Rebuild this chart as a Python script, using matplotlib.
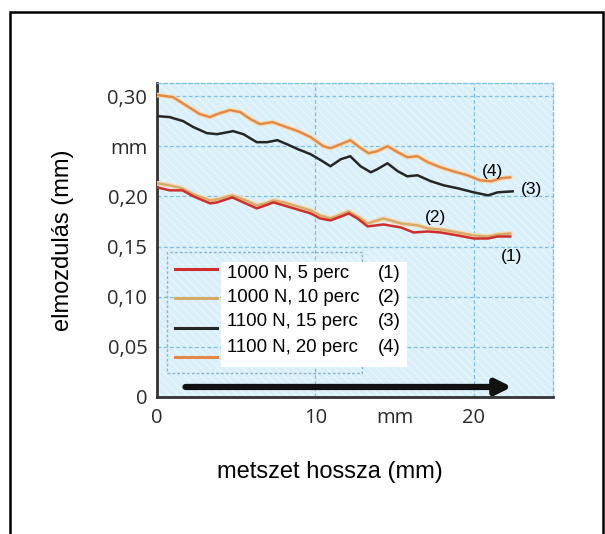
import matplotlib
matplotlib.use("Agg")
import matplotlib.pyplot as plt
from matplotlib.patches import Rectangle
from matplotlib.lines import Line2D
import matplotlib.patheffects as pe

# ---------------- data ----------------
x4 = [0.0, 1.0, 1.9, 2.7, 3.35, 3.8, 4.6, 5.25, 5.9, 6.5, 7.3, 8.0, 8.9, 9.7, 10.5, 10.95,
      11.6, 12.2, 12.7, 13.35, 13.9, 14.55, 15.2, 15.8, 16.45, 17.1, 17.9, 18.7, 19.6, 20.4,
      21.1, 21.7, 22.3]
y4 = [0.301, 0.299, 0.290, 0.282, 0.279, 0.282, 0.286, 0.284, 0.277, 0.272, 0.274, 0.270,
      0.265, 0.259, 0.250, 0.248, 0.252, 0.256, 0.250, 0.243, 0.245, 0.250, 0.244, 0.239,
      0.240, 0.234, 0.229, 0.225, 0.221, 0.216, 0.215, 0.218, 0.219]

x3 = [0.0, 0.8, 1.65, 2.3, 3.15, 3.8, 4.8, 5.45, 6.3, 6.95, 7.6, 8.2, 8.9, 9.7, 10.45, 10.95,
      11.6, 12.2, 12.85, 13.5, 13.9, 14.55, 15.2, 15.8, 16.45, 17.3, 18.1, 19.0, 20.0, 20.9,
      21.5, 22.45]
y3 = [0.280, 0.279, 0.275, 0.269, 0.263, 0.262, 0.265, 0.262, 0.254, 0.254, 0.256, 0.252,
      0.247, 0.242, 0.235, 0.230, 0.237, 0.240, 0.230, 0.224, 0.227, 0.233, 0.225, 0.220,
      0.221, 0.215, 0.211, 0.208, 0.204, 0.201, 0.204, 0.205]

x1 = [0.0, 0.8, 1.6, 2.3, 3.35, 3.8, 4.75, 5.45, 6.3, 6.85, 7.35, 8.0, 8.85, 9.7, 10.3, 10.95,
      11.8, 12.1, 12.65, 13.3, 14.3, 15.4, 16.2, 17.1, 17.9, 19.0, 20.0, 20.9, 21.5, 22.3]
y1 = [0.209, 0.206, 0.206, 0.200, 0.193, 0.194, 0.199, 0.194, 0.188, 0.191, 0.194, 0.191,
      0.187, 0.183, 0.178, 0.176, 0.181, 0.183, 0.178, 0.170, 0.172, 0.169, 0.164, 0.165,
      0.164, 0.161, 0.158, 0.158, 0.160, 0.160]

x2 = [0.0, 0.8, 1.6, 2.3, 3.35, 3.8, 4.75, 5.45, 6.3, 6.85, 7.35, 8.0, 8.85, 9.7, 10.3, 10.95,
      11.8, 12.1, 12.65, 13.3, 14.3, 15.4, 16.5, 17.1, 17.9, 19.0, 20.0, 20.9, 21.5, 22.3]
y2 = [0.213, 0.211, 0.208, 0.202, 0.196, 0.197, 0.201, 0.197, 0.191, 0.193, 0.196, 0.194,
      0.190, 0.186, 0.181, 0.178, 0.183, 0.185, 0.180, 0.173, 0.178, 0.173, 0.171, 0.168,
      0.167, 0.164, 0.161, 0.160, 0.162, 0.163]

series_labels = ["1000 N, 5 perc", "1000 N, 10 perc", "1100 N, 15 perc", "1100 N, 20 perc"]
series_numbers = ["(1)", "(2)", "(3)", "(4)"]

yticks = [0, 0.05, 0.10, 0.15, 0.20, 0.25, 0.30]
ytick_labels = ["0", "0,05", "0,10", "0,15", "0,20", "mm", "0,30"]
xticks = [0, 10, 15, 20]
xtick_labels = ["0", "10", "mm", "20"]

# ---------------- figure ----------------
W, H = 605, 534
fig = plt.figure(figsize=(W / 100, H / 100), dpi=100)
fig.patch.set_facecolor("white")

ax_l, ax_r, ax_t, ax_b = 157, 553, 83, 397
ax = fig.add_axes([ax_l / W, 1 - ax_b / H, (ax_r - ax_l) / W, (ax_b - ax_t) / H])
ax.set_xlim(0, 25)
ax.set_ylim(0, 0.313)

ax.set_facecolor("#d9eff9")
bg = Rectangle((0, 0), 1, 1, transform=ax.transAxes, facecolor="none",
               edgecolor="#e9f6fc", hatch="\\\\\\\\", lw=0, zorder=0)
ax.add_patch(bg)

grid_col = "#7cbfe0"
for yv in yticks[1:]:
    ax.axhline(yv, color=grid_col, lw=0.9, ls=(0, (3, 2)), zorder=1)
for xv in [10, 20]:
    ax.axvline(xv, color=grid_col, lw=0.9, ls=(0, (3, 2)), zorder=1)

for s in ["top", "right"]:
    ax.spines[s].set_color(grid_col)
    ax.spines[s].set_linestyle((0, (3, 2)))
    ax.spines[s].set_linewidth(0.9)
for s in ["left", "bottom"]:
    ax.spines[s].set_color("#333333")
    ax.spines[s].set_linewidth(2.0)

ax.set_yticks(yticks)
ax.set_yticklabels(ytick_labels)
ax.set_xticks(xticks)
ax.set_xticklabels(xtick_labels)
ax.tick_params(axis="both", length=0, labelsize=14.5, colors="#2a2a2a")
ax.tick_params(axis="y", pad=7)
ax.tick_params(axis="x", pad=8)
for lab in ax.get_xticklabels() + ax.get_yticklabels():
    lab.set_fontfamily("Open Sans")
    lab.set_color("#2a2a2a")

c1, c2, c3, c4 = "#cf2f2c", "#d6aa6a", "#262626", "#e48845"
halo = [pe.Stroke(linewidth=3.4, foreground="#f4dcb6"), pe.Normal()]
ax.plot(x2, y2, color=c2, lw=1.7, zorder=3, path_effects=halo)
ax.plot(x1, y1, color=c1, lw=1.8, zorder=4)
ax.plot(x4, y4, color=c4, lw=1.7, zorder=3, path_effects=halo)
ax.plot(x3, y3, color=c3, lw=1.8, zorder=4)

# curve number annotations
fs_ann = 12.5
ax.text(21.2, 0.225, "(4)", fontsize=fs_ann, family="Liberation Sans", ha="center", va="center", zorder=6)
ax.text(23.65, 0.207, "(3)", fontsize=fs_ann, family="Liberation Sans", ha="center", va="center", zorder=6)
ax.text(17.6, 0.179, "(2)", fontsize=fs_ann, family="Liberation Sans", ha="center", va="center", zorder=6)
ax.text(22.4, 0.140, "(1)", fontsize=fs_ann, family="Liberation Sans", ha="center", va="center", zorder=6)

# arrow along the section
ax.annotate("", xy=(22.4, 0.010), xytext=(1.8, 0.010),
            arrowprops=dict(arrowstyle="-|>,head_length=0.9,head_width=0.45",
                            color="#111111", lw=4.5, shrinkA=0, shrinkB=0), zorder=6)

# legend (manual, in pixel-derived axes coordinates)
def px2ax(px, py):
    return (px - ax_l) / (ax_r - ax_l), (ax_b - py) / (ax_b - ax_t)

bx0, by0 = px2ax(167, 373)
bx1, by1 = px2ax(362, 252)
ax.add_patch(Rectangle((bx0, by0), bx1 - bx0, by1 - by0, transform=ax.transAxes,
                       facecolor="none", edgecolor="#8fb3cc", lw=1.0, ls=(0, (2, 1.5)), zorder=5))
wx0, wy0 = px2ax(221, 367)
wx1, wy1 = px2ax(407, 262)
ax.add_patch(Rectangle((wx0, wy0), wx1 - wx0, wy1 - wy0, transform=ax.transAxes,
                       facecolor="white", edgecolor="none", zorder=5))

line_rows = [269, 298, 328, 357]
text_rows = [273, 298, 322, 347]
cols = [c1, c2, c3, c4]
for i in range(4):
    lx0, ly = px2ax(175, line_rows[i])
    lx1, _ = px2ax(217, line_rows[i])
    ax.add_line(Line2D([lx0, lx1], [ly, ly], transform=ax.transAxes, color=cols[i],
                       lw=2.2, zorder=6))
    tx, ty = px2ax(227, text_rows[i])
    ax.text(tx, ty, series_labels[i], transform=ax.transAxes, fontsize=13.4,
            family="Liberation Sans", ha="left", va="center", zorder=7)
    nx, _ = px2ax(378, text_rows[i])
    ax.text(nx, ty, series_numbers[i], transform=ax.transAxes, fontsize=13.4,
            family="Liberation Sans", ha="left", va="center", zorder=7)

# axis labels
fig.text(63 / W, 1 - 240 / H, "elmozdulás (mm)", rotation=90, fontsize=17,
         family="Liberation Sans", ha="center", va="center")
fig.text(330 / W, 1 - 472 / H, "metszet hossza (mm)", fontsize=17,
         family="Liberation Sans", ha="center", va="center")

# outer frame
fig.add_artist(Rectangle((10 / W, -0.02), (603 - 10) / W, (1 - 12 / H) + 0.02,
                         transform=fig.transFigure, facecolor="none",
                         edgecolor="black", lw=1.8))

fig.savefig("out.png", dpi=100)
